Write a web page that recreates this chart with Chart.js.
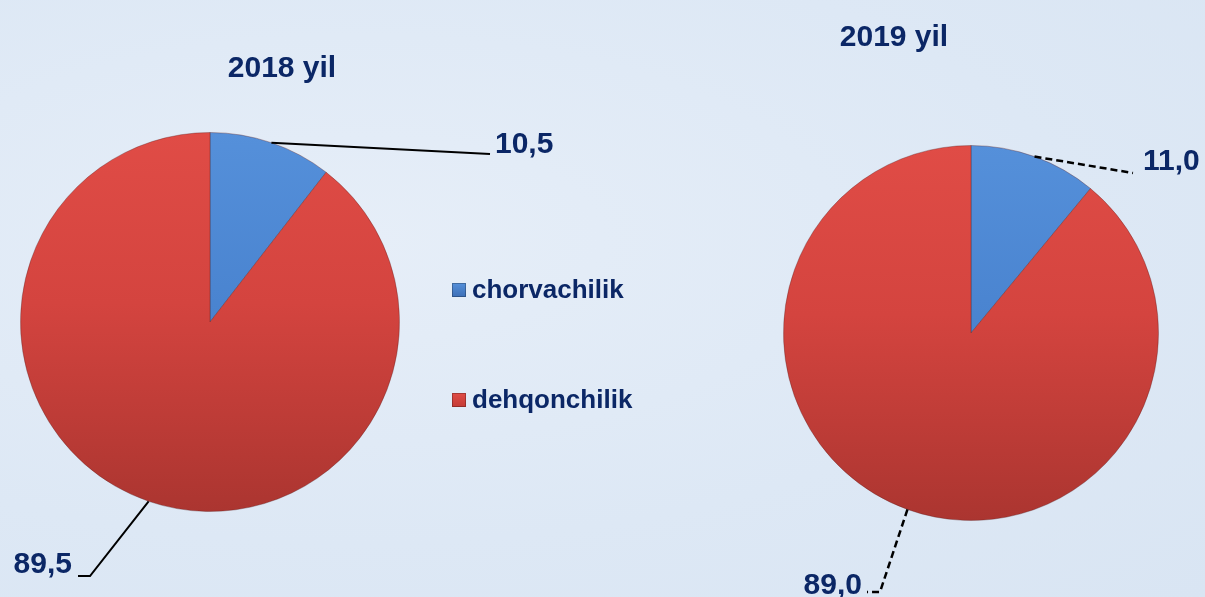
<!DOCTYPE html>
<html><head><meta charset="utf-8">
<script src="https://cdn.jsdelivr.net/npm/chart.js@4/dist/chart.umd.min.js"></script>
<style>
html,body{margin:0;padding:0;}
body{width:1205px;height:597px;position:relative;overflow:hidden;
 background:radial-gradient(ellipse at 30% 40%, #e6eef8 0%, #dde8f5 60%, #d9e5f3 100%);
 font-family:"Liberation Sans",Arial,sans-serif;}
canvas{position:absolute;left:0;top:0;}
.t{position:absolute;color:#0b2766;font-weight:bold;font-size:30px;line-height:1;white-space:nowrap;transform:translateX(-50%);}
.lg{position:absolute;left:452px;color:#0b2766;font-weight:bold;font-size:26px;line-height:1;white-space:nowrap;}
.lg span.sw{display:inline-block;width:14px;height:14px;margin-right:6px;vertical-align:1px;box-shadow:inset 0 0 0 1px rgba(0,0,0,0.25);}
</style>
</head><body>
<canvas id="c1" width="1205" height="597"></canvas>
<canvas id="c2" width="1205" height="597"></canvas>
<div class="t" id="t1" style="left:282px;top:52px;"></div>
<div class="t" id="t2" style="left:894px;top:21px;"></div>
<div class="lg" id="lg0" style="top:276px;"></div>
<div class="lg" id="lg1" style="top:386px;"></div>
<script>
const categories = ["chorvachilik", "dehqonchilik"];
const years = ["2018 yil", "2019 yil"];
const values2018 = [10.5, 89.5];
const values2019 = [11.0, 89.0];

const sliceLight = ["#5590da", "#e04c46"];
const sliceMid   = ["#4a84d0", "#d4443f"];
const sliceDark  = ["#3f76c2", "#ab3530"];
const swatch = ["#3d6fb6", "#c43a35"];
const textColor = "#0b2766";

document.getElementById('t1').textContent = years[0];
document.getElementById('t2').textContent = years[1];
categories.forEach((c,i)=>{
  const el = document.getElementById('lg'+i);
  el.innerHTML = '<span class="sw" style="background:linear-gradient(180deg,'+sliceLight[i]+','+swatch[i]+')"></span>';
  el.appendChild(document.createTextNode(c));
});

function sliceFill(ctx){
  const i = ctx.dataIndex;
  const c = ctx.chart, a = c.chartArea;
  if(!a) return sliceMid[i];
  const g = c.ctx.createLinearGradient(0, a.top, 0, a.bottom);
  g.addColorStop(0, sliceLight[i]);
  g.addColorStop(0.45, sliceMid[i]);
  g.addColorStop(1, sliceDark[i]);
  return g;
}

const leaderPlugin = {
  id: 'leaders',
  afterDatasetsDraw(chart, args, opts){
    const ctx = chart.ctx;
    const meta = chart.getDatasetMeta(0);
    const vals = chart.data.datasets[0].data;
    meta.data.forEach((arc, i) => {
      const p = arc.getProps(['x','y','startAngle','endAngle','outerRadius'], true);
      const mid = (p.startAngle + p.endAngle) / 2;
      const sx = p.x + Math.cos(mid) * p.outerRadius;
      const sy = p.y + Math.sin(mid) * p.outerRadius;
      const L = opts.lines[i];
      ctx.save();
      ctx.strokeStyle = '#000';
      ctx.lineWidth = opts.dashed ? 2.5 : 2;
      if (opts.dashed) ctx.setLineDash([7, 4]);
      ctx.beginPath();
      ctx.moveTo(sx, sy);
      L.pts.forEach(q => ctx.lineTo(p.x + q[0], p.y + q[1]));
      ctx.stroke();
      ctx.setLineDash([]);
      ctx.fillStyle = textColor;
      ctx.font = 'bold 30px "Liberation Sans", Arial, sans-serif';
      ctx.textAlign = L.align;
      ctx.textBaseline = 'middle';
      ctx.fillText(vals[i].toFixed(1).replace('.', ','), p.x + L.text[0], p.y + L.text[1]);
      ctx.restore();
    });
  }
};

function makePie(id, values, padding, lines, dashed){
  return new Chart(document.getElementById(id), {
    type: 'pie',
    data: { labels: categories, datasets: [{ data: values, backgroundColor: sliceFill, borderWidth: 1, borderColor: 'rgba(90,30,30,0.35)' }] },
    options: {
      responsive: false, animation: false, events: [],
      layout: { padding },
      plugins: { legend: { display: false }, tooltip: { enabled: false },
        leaders: { lines, dashed } }
    },
    plugins: [leaderPlugin]
  });
}

makePie('c1', values2018, {left:20, top:132, right:805, bottom:85},
  [ { pts: [[280,-168]], text: [285,-177], align: 'left' },
    { pts: [[-120,254],[-132,254]], text: [-138,243], align: 'right' } ], false);
makePie('c2', values2019, {left:783, top:145, right:46, bottom:76},
  [ { pts: [[162,-160]], text: [172,-171], align: 'left' },
    { pts: [[-91,259],[-104,259]], text: [-109,253], align: 'right' } ], true);
</script>
</body></html>
